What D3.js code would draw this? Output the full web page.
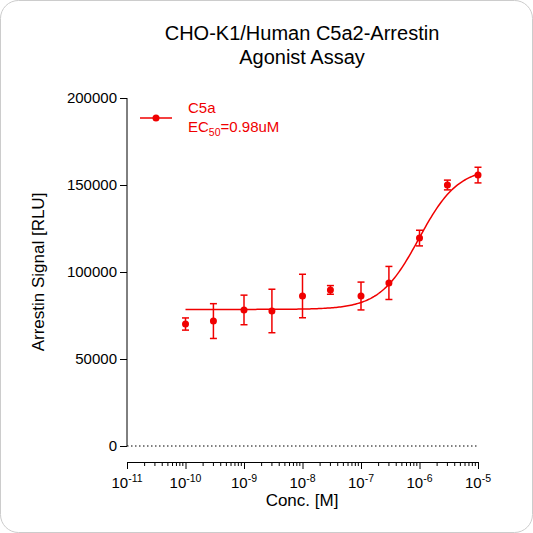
<!DOCTYPE html><html><head><script src="https://cdn.jsdelivr.net/npm/d3@7"></script>
<style>body{margin:0;background:#fff}text{font-family:Arial,"Liberation Sans",sans-serif}</style></head><body>
<svg id="c" width="533" height="533"></svg>
<script>
const conc=[1e-10,3e-10,1e-9,3e-9,1e-8,3e-8,1e-7,3e-7,1e-6,3e-6,1e-5];
const signal=[70100,71800,78200,77600,86200,89700,86200,93700,119500,150000,155700];
const errs=[3500,10000,8500,12500,12500,2500,8000,9500,4500,2800,4500];
const yTicks=[0,50000,100000,150000,200000];
const xTicks=[1e-11,1e-10,1e-9,1e-8,1e-7,1e-6,1e-5];
const fit={bottom:78500,top:160000,ec50:0.98e-6,hill:1.3};
const red="#f00000";
const svg=d3.select("#c");
svg.append("rect").attr("x",0.5).attr("y",0.5).attr("width",532).attr("height",532).attr("rx",18).attr("fill","#fff").attr("stroke","#ccc");
const x=d3.scaleLog().domain([1e-11,1e-5]).range([127,478]);
const y=d3.scaleLinear().domain([0,200000]).range([446,98]);
const ya=svg.append("g").attr("transform","translate(127,0)").call(d3.axisLeft(y).tickValues(yTicks).tickFormat(d3.format("d")).tickSize(7));
ya.select(".domain").attr("d","M0,98V446");
ya.selectAll("text").attr("font-size",15).attr("fill","#000");
const minor=[];for(let e=-11;e<-5;e++)for(let k=2;k<10;k++)minor.push(k*Math.pow(10,e));
const xa=svg.append("g").attr("transform","translate(0,462)");
xa.call(d3.axisBottom(x).tickValues(xTicks).tickFormat("").tickSize(7));
xa.selectAll(".minor").data(minor).enter().append("line").attr("x1",d=>x(d)).attr("x2",d=>x(d)).attr("y1",0).attr("y2",4).attr("stroke","#000");
xTicks.forEach(t=>{const e=Math.round(Math.log10(t));const tx=svg.append("text").attr("x",x(t)).attr("y",488).attr("text-anchor","middle").attr("font-size",15);
tx.append("tspan").text("10");tx.append("tspan").attr("dy",-6).attr("font-size",10.5).text(e);});
svg.append("line").attr("x1",127).attr("x2",478).attr("y1",y(0)).attr("y2",y(0)).attr("stroke","#000").attr("stroke-dasharray","1.5,2.5");
const f=c=>fit.bottom+(fit.top-fit.bottom)/(1+Math.pow(fit.ec50/c,fit.hill));
const pts=d3.range(0,201).map(i=>Math.pow(10,-10+5*i/200));
svg.append("path").attr("d",d3.line().x(d=>x(d)).y(d=>y(f(d)))(pts)).attr("fill","none").attr("stroke",red).attr("stroke-width",1.5);
conc.forEach((c,i)=>{const cx=x(c),v=signal[i],e=errs[i];
svg.append("line").attr("x1",cx).attr("x2",cx).attr("y1",y(v-e)).attr("y2",y(v+e)).attr("stroke",red).attr("stroke-width",1.5);
[v-e,v+e].forEach(w=>svg.append("line").attr("x1",cx-3.5).attr("x2",cx+3.5).attr("y1",y(w)).attr("y2",y(w)).attr("stroke",red).attr("stroke-width",1.5));
svg.append("circle").attr("cx",cx).attr("cy",y(v)).attr("r",3.5).attr("fill",red);});
svg.append("line").attr("x1",140).attr("x2",172).attr("y1",118).attr("y2",118).attr("stroke",red).attr("stroke-width",1.5);
svg.append("circle").attr("cx",156).attr("cy",118).attr("r",3.5).attr("fill",red);
svg.append("text").attr("x",188).attr("y",113).attr("font-size",15).attr("fill",red).text("C5a");
const lt=svg.append("text").attr("x",188).attr("y",132).attr("font-size",15).attr("fill",red);
lt.append("tspan").text("EC");lt.append("tspan").attr("dy",4).attr("font-size",10.5).text("50");lt.append("tspan").attr("dy",-4).text("=0.98uM");
svg.append("text").attr("x",302).attr("y",40).attr("text-anchor","middle").attr("font-size",20).text("CHO-K1/Human C5a2-Arrestin");
svg.append("text").attr("x",302).attr("y",64).attr("text-anchor","middle").attr("font-size",20).text("Agonist Assay");
svg.append("text").attr("transform","translate(44,272) rotate(-90)").attr("text-anchor","middle").attr("font-size",17).text("Arrestin Signal [RLU]");
svg.append("text").attr("x",302).attr("y",506).attr("text-anchor","middle").attr("font-size",17).text("Conc. [M]");
</script></body></html>
